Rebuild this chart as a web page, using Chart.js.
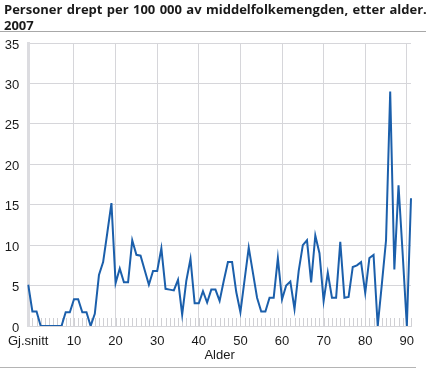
<!DOCTYPE html>
<html>
<head>
<meta charset="utf-8">
<script src="https://cdn.jsdelivr.net/npm/chart.js@4.4.1/dist/chart.umd.min.js"></script>
<style>
  body { margin: 0; background: #fff; }
  #page { position: relative; width: 426px; height: 370px; overflow: hidden; }
  #title { position: absolute; left: 4px; top: 1px; font: bold 13px "Open Sans", sans-serif; word-spacing: 1px; line-height: 16px; color: #1a1a1a; white-space: nowrap; }
  #rule-top { position: absolute; left: 0; top: 31px; width: 426px; height: 1px; background: #a8a8a8; }
  #rule-bottom { position: absolute; left: 0; top: 367px; width: 416px; height: 1px; background: #b4b4b4; }
  #chart { position: absolute; left: 0; top: 0; }
</style>
</head>
<body>
<div id="page">
  <canvas id="chart" width="426" height="370"></canvas>
  <div id="title">Personer drept per 100 000 av middelfolkemengden, etter alder.<br>2007</div>
  <div id="rule-top"></div>
  <div id="rule-bottom"></div>
</div>
<script>
// categories: average first, then one point per age
const categories = ['Gj.snitt'];
for (let age = 0; age <= 91; age++) categories.push(String(age));

// labels shown under the x axis
const tickLabels = ['Gj.snitt', '10', '20', '30', '40', '50', '60', '70', '80', '90'];

// killed per 100 000 of mean population
const drept = [
  5.1,
  1.8, 1.8, 0, 0, 0, 0, 0, 0, 1.7, 1.7,
  3.3, 3.3, 1.7, 1.7, 0, 1.5, 6.3, 7.9, 11.5, 15.2,
  5.3, 7.1, 5.4, 5.4, 10.6, 8.8, 8.7, 6.9, 5.1, 6.8,
  6.8, 9.6, 4.6, 4.5, 4.4, 5.7, 1.4, 5.6, 8.3, 2.8,
  2.8, 4.3, 2.9, 4.5, 4.5, 3.1, 5.6, 7.9, 7.9, 4.2,
  1.7, 5.7, 9.7, 6.6, 3.5, 1.8, 1.8, 3.5, 3.5, 8.4,
  3.3, 5.0, 5.5, 2.1, 6.8, 10.0, 10.6, 5.4, 11.2, 9.0,
  3.1, 6.6, 3.5, 3.5, 10.4, 3.5, 3.6, 7.3, 7.5, 7.9,
  4.1, 8.4, 8.8, 0, 5.2, 10.6, 29.0, 7.0, 17.4, 8.9,
  0, 15.8
];

const yMax = 35;
const yStep = 5;

// small tick marks at every category, drawn upward from the baseline
const innerTicks = {
  id: 'innerTicks',
  beforeDatasetsDraw(chart) {
    const x = chart.scales.x;
    const area = chart.chartArea;
    const ctx = chart.ctx;
    ctx.save();
    ctx.strokeStyle = '#d0d0d4';
    ctx.lineWidth = 1;
    ctx.beginPath();
    for (let i = 1; i < categories.length; i++) {
      const px = Math.round(x.getPixelForValue(i)) + 0.5;
      ctx.moveTo(px, area.bottom);
      ctx.lineTo(px, area.bottom - 8);
    }
    ctx.stroke();
    ctx.restore();
  }
};

const ctx = document.getElementById('chart').getContext('2d');
new Chart(ctx, {
  type: 'line',
  data: {
    labels: categories,
    datasets: [{
      data: drept,
      borderColor: '#1b5fab',
      borderWidth: 2,
      pointRadius: 0,
      tension: 0,
      fill: false
    }]
  },
  options: {
    responsive: false,
    animation: false,
    devicePixelRatio: 1,
    layout: { padding: { top: 43, right: 15, bottom: 0, left: 0 } },
    plugins: { legend: { display: false }, tooltip: { enabled: false } },
    scales: {
      x: {
        afterFit(scale) { scale.height = 44; },
        border: { color: '#d6d6da', width: 1 },
        grid: {
          drawTicks: false,
          color: c => (c.index > 0 && tickLabels.includes(categories[c.index]) ? '#d6d6da' : 'rgba(0,0,0,0)')
        },
        ticks: {
          autoSkip: false,
          maxRotation: 0,
          padding: 8,
          color: '#1a1a1a',
          font: { family: 'Liberation Sans', size: 13 },
          callback: (v, i) => (tickLabels.includes(categories[i]) ? categories[i] : '')
        },
        title: {
          display: true,
          text: 'Alder',
          color: '#1a1a1a',
          font: { family: 'Liberation Sans', size: 13 },
          padding: { top: 0, bottom: 7 }
        }
      },
      y: {
        min: 0,
        max: yMax,
        afterFit(scale) { scale.width = 26; },
        border: { color: '#dcdce0', width: 3 },
        grid: { drawTicks: false, color: '#d6d6da' },
        ticks: {
          stepSize: yStep,
          padding: 9,
          labelOffset: 2,
          color: '#1a1a1a',
          font: { family: 'Liberation Sans', size: 13 }
        }
      }
    }
  },
  plugins: [innerTicks]
});
</script>
</body>
</html>
